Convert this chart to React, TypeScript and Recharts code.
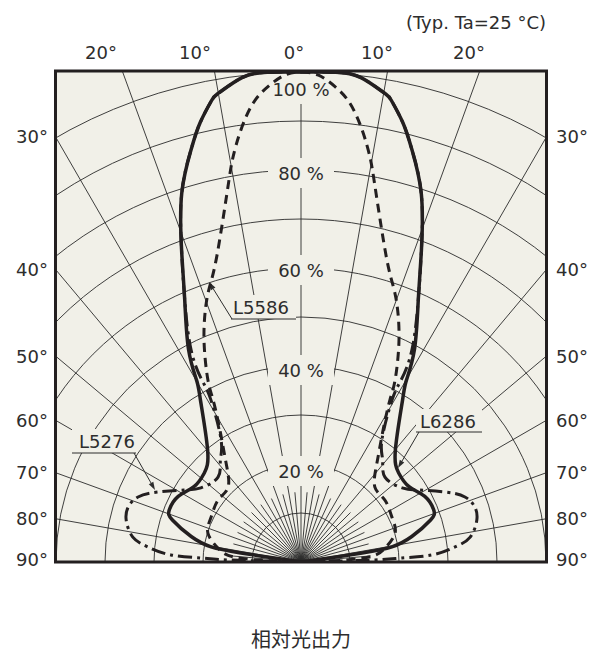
import { LineChart, Line, XAxis, YAxis } from "recharts";

// Relative luminous intensity vs. emission angle (one half, mirrored).
const ANGLES_L6286 = [0, 4, 7, 10, 11, 13, 15, 18, 21, 24, 28, 30, 32, 40, 47.5, 55, 62, 68.5, 72, 77, 80.5, 81.5, 82, 90];
const VALUES_L6286 = [100, 100.2, 99.6, 97.2, 96, 92, 87.1, 79.1, 68.3, 58.6, 49.1, 42.8, 38.9, 29.8, 26.9, 26.8, 28.5, 29.0, 27.7, 23.1, 18.7, 12.5, 2.8, 0];

const ANGLES_L5276 = [0, 4, 7, 10, 11, 13, 15, 18, 21, 24, 27.5, 28.7, 29.2, 33.4, 38.5, 44.5, 53.6, 58.5, 64, 68.3, 72.4, 76.5, 81.6, 84.4, 86.9, 87.7, 88.4, 90];
const VALUES_L5276 = [100, 100.2, 99.6, 97.2, 96, 92, 87.1, 79.1, 68.3, 58.6, 48.8, 42.3, 37.9, 29.8, 26.6, 24.3, 25.5, 28.1, 32.6, 35.9, 37.1, 36.8, 34.8, 31.5, 26.7, 20.5, 15.0, 0];

const ANGLES_L5586 = [0, 2, 4, 6, 8, 9.6, 11.1, 15, 17.9, 20.2, 23.7, 27.2, 28.6, 31.7, 37.3, 44.4, 53.4, 63.6, 72.8, 80.5, 85.8, 88, 90];
const VALUES_L5586 = [100, 99.4, 97.3, 94.2, 89, 83.8, 78, 65.9, 60.1, 56.3, 49.5, 41.8, 37.7, 31.7, 25.4, 21.4, 21.2, 20.6, 20, 17.3, 13.8, 6.2, 0];

const RINGS = [10, 20, 30, 40, 50, 60, 70, 80, 90, 100];
const SPOKES = [-90, -80, -70, -60, -50, -40, -30, -20, -10, 0, 10, 20, 30, 40, 50, 60, 70, 80, 90];
const FINE_SPOKES = [-85, -75, -65, -55, -45, -35, -25, -15, -5, 5, 15, 25, 35, 45, 55, 65, 75, 85];
const PCT_LABELS = ["100 %", "80 %", "60 %", "40 %", "20 %"];
const TOP_LABELS = ["20°", "10°", "0°", "10°", "20°"];
const SIDE_ANGLES = [30, 40, 50, 60, 70, 80, 90];

// layout (page pixels)
const CX = 301;
const CY = 562;
const U = 4.9; // px per %
const BOX = { x: 55.5, y: 71, w: 491, h: 491 };
const BG = "#f1f0e8";
const INK = "#231f20";
const TXT = "#2d2d2d";
const FONT = "'DejaVu Sans', Verdana, sans-serif";
const PCT_Y = [89, 173, 270, 370, 471];
const TOP_X = [101, 195, 294, 377, 469];

const rad = (d: number) => (d * Math.PI) / 180;

function toPoints(angles: number[], values: number[]) {
  const right = angles.map((a, i) => ({ x: values[i] * Math.sin(rad(a)), y: values[i] * Math.cos(rad(a)) }));
  const left = right.map((p) => ({ x: -p.x, y: p.y }));
  return [...right.slice().reverse(), ...left.slice(1)];
}

const L6286 = toPoints(ANGLES_L6286, VALUES_L6286);
const L5276 = toPoints(ANGLES_L5276, VALUES_L5276);
const L5586 = toPoints(ANGLES_L5586, VALUES_L5586);

function Arrow({ x1, y1, x2, y2 }: { x1: number; y1: number; x2: number; y2: number }) {
  const a = Math.atan2(y2 - y1, x2 - x1);
  const l = 8, w = 2.6;
  const bx = x2 - l * Math.cos(a), by = y2 - l * Math.sin(a);
  const px = -Math.sin(a) * w, py = Math.cos(a) * w;
  return (
    <g>
      <line x1={x1} y1={y1} x2={bx} y2={by} stroke={TXT} strokeWidth={1} />
      <polygon points={`${x2},${y2} ${bx + px},${by + py} ${bx - px},${by - py}`} fill={TXT} />
    </g>
  );
}

function Callout({ text, cx, cy, ux1, ux2, uy, to }: { text: string; cx: number; cy: number; ux1: number; ux2: number; uy: number; to: [number, number, number, number] }) {
  return (
    <g>
      <rect x={ux1} y={cy - 12} width={ux2 - ux1} height={uy - cy + 12} fill={BG} />
      <text x={cx} y={cy} textAnchor="middle" dominantBaseline="central" fontSize={18} fill={TXT} fontFamily={FONT}>
        {text}
      </text>
      <line x1={ux1} y1={uy} x2={ux2} y2={uy} stroke={TXT} strokeWidth={1} />
      <Arrow x1={to[0]} y1={to[1]} x2={to[2]} y2={to[3]} />
    </g>
  );
}

function GridLayer() {
  return (
    <svg width={607} height={659} style={{ position: "absolute", left: 0, top: 0 }}>
      <defs>
        <clipPath id="plotClip">
          <rect x={BOX.x} y={BOX.y} width={BOX.w} height={BOX.h} />
        </clipPath>
      </defs>
      <rect x={BOX.x} y={BOX.y} width={BOX.w} height={BOX.h} fill={BG} />
      <g clipPath="url(#plotClip)" stroke="#2a2a2a" strokeWidth={0.9} fill="none">
        {RINGS.map((r) => (
          <circle key={r} cx={CX} cy={CY} r={r * U} />
        ))}
        {SPOKES.map((a) => (
          <line key={a} x1={CX} y1={CY} x2={CX + 800 * Math.sin(rad(a))} y2={CY - 800 * Math.cos(rad(a))} />
        ))}
        {FINE_SPOKES.map((a) => (
          <line key={a} x1={CX} y1={CY} x2={CX + 70 * Math.sin(rad(a))} y2={CY - 70 * Math.cos(rad(a))} />
        ))}
      </g>
      {PCT_LABELS.map((t, i) => (
        <g key={t}>
          <rect x={CX - (t.length > 4 ? 37 : 33)} y={PCT_Y[i] - 15} width={t.length > 4 ? 74 : 66} height={30} fill={BG} />
          <text x={CX} y={PCT_Y[i]} textAnchor="middle" dominantBaseline="central" fontSize={18} fill={TXT} fontFamily={FONT}>
            {t}
          </text>
        </g>
      ))}
      <Callout text="L5586" cx={261} cy={307} ux1={231} ux2={296} uy={319} to={[232, 319, 209, 282]} />
      <Callout text="L5276" cx={107} cy={441} ux1={72} ux2={136} uy={453} to={[134, 453, 155, 490]} />
      <Callout text="L6286" cx={448} cy={421} ux1={416} ux2={482} uy={432} to={[419, 432, 398, 468]} />
      {TOP_LABELS.map((t, i) => (
        <text key={i} x={TOP_X[i]} y={52} textAnchor="middle" dominantBaseline="central" fontSize={18} fill={TXT} fontFamily={FONT}>
          {t}
        </text>
      ))}
      {SIDE_ANGLES.map((a) => {
        const y = a === 90 ? 559 : CY - (BOX.w / 2) / Math.tan(rad(a));
        return (
          <g key={a}>
            <text x={48} y={y} textAnchor="end" dominantBaseline="central" fontSize={18} fill={TXT} fontFamily={FONT}>
              {a}°
            </text>
            <text x={556} y={y} textAnchor="start" dominantBaseline="central" fontSize={18} fill={TXT} fontFamily={FONT}>
              {a}°
            </text>
          </g>
        );
      })}
      <text x={546} y={22} textAnchor="end" dominantBaseline="central" fontSize={18} fill={TXT} fontFamily={FONT}>
        (Typ. Ta=25 °C)
      </text>
      <text x={301} y={638} textAnchor="middle" dominantBaseline="central" fontSize={20} fill={TXT} fontFamily="'Noto Sans CJK JP', sans-serif">
        相対光出力
      </text>
    </svg>
  );
}

export default function App() {
  return (
    <div style={{ position: "absolute", left: 0, top: 0, width: 607, height: 659, overflow: "hidden", background: "#fff" }}>
      <GridLayer />
      <div style={{ position: "absolute", left: BOX.x - 10, top: BOX.y - 10 }}>
        <LineChart width={BOX.w + 20} height={BOX.h + 20} margin={{ top: 10, right: 10, bottom: 10, left: 10 }}>
          <XAxis type="number" dataKey="x" domain={[-BOX.w / 2 / U, BOX.w / 2 / U]} allowDataOverflow hide />
          <YAxis type="number" dataKey="y" domain={[0, BOX.h / U]} allowDataOverflow hide />
          <Line data={L5586} dataKey="y" type="natural" stroke={INK} strokeWidth={3} strokeDasharray="9 6" dot={false} activeDot={false} isAnimationActive={false} />
          <Line data={L5276} dataKey="y" type="natural" stroke={INK} strokeWidth={3} strokeDasharray="14 5 3 5" dot={false} activeDot={false} isAnimationActive={false} />
          <Line data={L6286} dataKey="y" type="natural" stroke={INK} strokeWidth={3.5} dot={false} activeDot={false} isAnimationActive={false} />
        </LineChart>
      </div>
      <svg width={607} height={659} style={{ position: "absolute", left: 0, top: 0, pointerEvents: "none" }}>
        <rect x={BOX.x} y={BOX.y} width={BOX.w} height={BOX.h} fill="none" stroke={INK} strokeWidth={3} />
      </svg>
    </div>
  );
}
